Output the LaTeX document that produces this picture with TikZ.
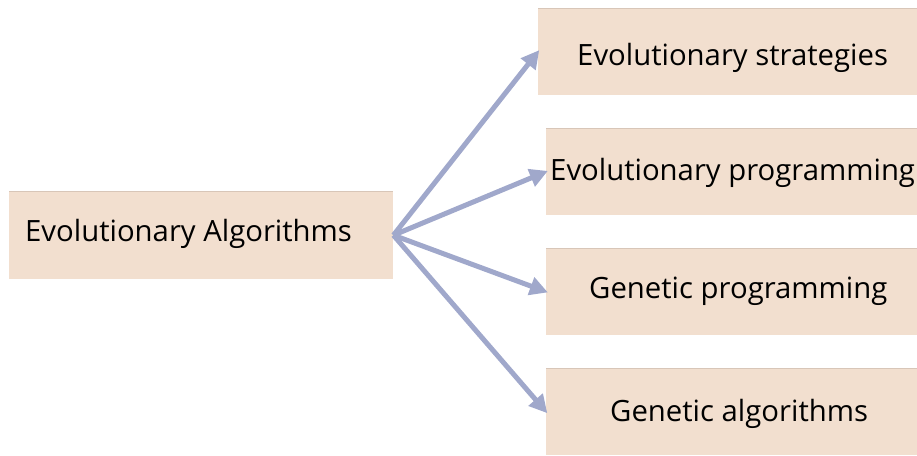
\documentclass[tikz,border=0pt]{standalone}
\usepackage{fontspec}
\setmainfont{Open Sans}
\usetikzlibrary{arrows.meta}
\definecolor{boxfill}{HTML}{F2DFCF}
\definecolor{boxedge}{HTML}{D8C6B8}
\definecolor{arrowcol}{HTML}{A0A8CB}
\begin{document}
\begin{tikzpicture}[x=1pt,y=-1pt,
  box/.style={fill=boxfill, inner sep=0pt, anchor=north west},
  label/.style={font=\fontsize{29.3}{34}\selectfont, text=black, inner sep=0pt, anchor=base west},
  link/.style={draw=arrowcol, line width=5pt, -{Triangle[length=18pt,width=18pt]}, shorten >=-2pt}]
  \useasboundingbox (0,0) rectangle (917,455);
  % boxes
  \node[box, minimum width=384pt, minimum height=88pt] (ea) at (9,191) {};
  \node[box, minimum width=379pt, minimum height=87pt] (es) at (538,8) {};
  \node[box, minimum width=371pt, minimum height=87pt] (ep) at (546,128) {};
  \node[box, minimum width=371pt, minimum height=87pt] (gp) at (546,248) {};
  \node[box, minimum width=371pt, minimum height=87pt] (ga) at (546,368) {};
  % thin top edges
  \foreach \b in {ea,es,ep,gp,ga}
    \draw[boxedge, line width=0.8pt] (\b.north west) -- (\b.north east);
  % labels
  \node[label] at (25,241) {Evolutionary Algorithms};
  \node[label] at (577,65) {Evolutionary strategies};
  \node[label] at (550,180) {Evolutionary programming};
  \node[label] at (589,298) {Genetic programming};
  \node[label] at (610,421) {Genetic algorithms};
  % connectors
  \foreach \b in {es,ep,gp,ga}
    \draw[link] (ea.east) -- (\b.west);
\end{tikzpicture}
\end{document}
